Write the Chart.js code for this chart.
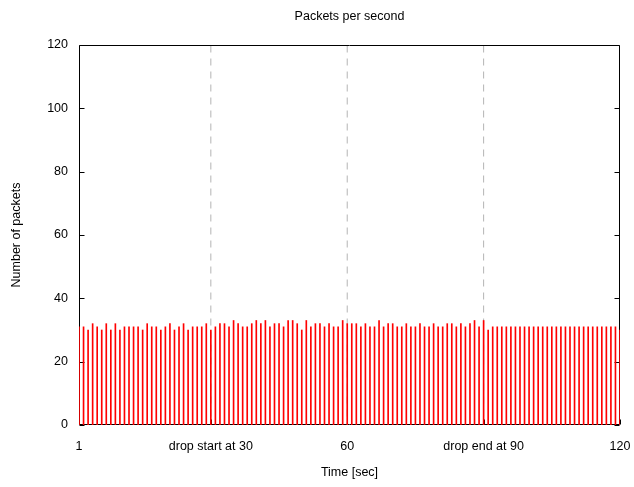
<!DOCTYPE html>
<html>
<head>
<meta charset="utf-8">
<title>Packets per second</title>
<script src="https://cdn.jsdelivr.net/npm/chart.js@4/dist/chart.umd.min.js"></script>
<style>
  html, body { margin: 0; padding: 0; background: #ffffff; }
  #wrap { width: 634px; height: 487px; }
</style>
</head>
<body>
<div id="wrap"><canvas id="chart" width="634" height="487"></canvas></div>
<script>
// Seconds of the capture (one impulse per second)
const seconds = [
  1, 2, 3, 4, 5, 6, 7, 8, 9, 10, 11, 12, 13, 14, 15, 16, 17, 18, 19, 20,
  21, 22, 23, 24, 25, 26, 27, 28, 29, 30, 31, 32, 33, 34, 35, 36, 37, 38, 39, 40,
  41, 42, 43, 44, 45, 46, 47, 48, 49, 50, 51, 52, 53, 54, 55, 56, 57, 58, 59, 60,
  61, 62, 63, 64, 65, 66, 67, 68, 69, 70, 71, 72, 73, 74, 75, 76, 77, 78, 79, 80,
  81, 82, 83, 84, 85, 86, 87, 88, 89, 90, 91, 92, 93, 94, 95, 96, 97, 98, 99, 100,
  101, 102, 103, 104, 105, 106, 107, 108, 109, 110, 111, 112, 113, 114, 115, 116, 117, 118, 119, 120
];

// Packets counted in each second
const packets = [
  31, 31, 30, 32, 31, 30, 32, 30, 32, 30, 31, 31, 31, 31, 30, 32, 31, 31, 30, 31,
  32, 30, 31, 32, 30, 31, 31, 31, 32, 30, 31, 32, 32, 31, 33, 32, 31, 31, 32, 33,
  32, 33, 31, 32, 32, 31, 33, 33, 32, 30, 33, 31, 32, 32, 31, 32, 31, 31, 33, 32,
  32, 32, 31, 32, 31, 31, 33, 31, 32, 32, 31, 31, 32, 31, 31, 32, 31, 31, 32, 31,
  31, 32, 32, 31, 32, 31, 32, 33, 31, 33, 30, 31, 31, 31, 31, 31, 31, 31, 31, 31,
  31, 31, 31, 31, 31, 31, 31, 31, 31, 31, 31, 31, 31, 31, 31, 31, 31, 31, 31, 30
];

// X axis ticks and their labels
const xTickValues = [1, 30, 60, 90, 120];
const xTickLabels = ['1', 'drop start at 30', '60', 'drop end at 90', '120'];

// Seconds where the drop window starts / midpoint / ends (dashed guides)
const markerSeconds = [30, 60, 90];

// Y axis ticks
const yTickValues = [0, 20, 40, 60, 80, 100, 120];

const chartTitle = 'Packets per second';

const FONT = '"Liberation Sans", Arial, Helvetica, sans-serif';
const FONT_SIZE = 12.5;
Chart.defaults.font.family = FONT;
Chart.defaults.font.size = FONT_SIZE;
Chart.defaults.color = '#000000';

// Frame, inward tick marks and dashed guide lines, drawn behind the impulses
const framePlugin = {
  id: 'frame',
  beforeDatasetsDraw(chart) {
    const { ctx, chartArea: a, scales } = chart;
    const xs = scales.x, ys = scales.y;
    const L = Math.round(a.left) + 0.5, R = Math.round(a.right) - 0.5;
    const T = Math.round(a.top) + 0.5, B = Math.round(a.bottom) - 0.5;
    ctx.save();

    // dashed guides
    ctx.strokeStyle = '#b4b4b4';
    ctx.lineWidth = 1;
    ctx.setLineDash([7, 6]);
    markerSeconds.forEach(v => {
      const px = xs.getPixelForValue(v);
      ctx.beginPath();
      ctx.moveTo(px, T);
      ctx.lineTo(px, B);
      ctx.stroke();
    });
    ctx.setLineDash([]);

    // frame
    ctx.strokeStyle = '#000000';
    ctx.beginPath();
    ctx.rect(L, T, R - L, B - T);
    ctx.stroke();

    // inward ticks
    const tl = 5;
    ctx.beginPath();
    yTickValues.forEach(v => {
      const py = Math.round(ys.getPixelForValue(v)) + 0.5;
      ctx.moveTo(L, py); ctx.lineTo(L + tl, py);
      ctx.moveTo(R, py); ctx.lineTo(R - tl, py);
    });
    xTickValues.forEach(v => {
      const px = Math.round(xs.getPixelForValue(v)) + 0.5;
      ctx.moveTo(px, B); ctx.lineTo(px, B - tl);
    });
    ctx.stroke();
    ctx.restore();
  },
  // title centred over the plot area
  afterDraw(chart) {
    const { ctx, chartArea: a } = chart;
    ctx.save();
    ctx.font = FONT_SIZE + 'px ' + FONT;
    ctx.fillStyle = '#000000';
    ctx.textAlign = 'center';
    ctx.textBaseline = 'middle';
    ctx.fillText(chartTitle, (a.left + a.right) / 2, 17);
    ctx.restore();
  }
};

new Chart(document.getElementById('chart'), {
  type: 'bar',
  data: {
    datasets: [{
      label: 'packets',
      data: seconds.map((s, i) => ({ x: s, y: packets[i] })),
      backgroundColor: '#ff0000',
      borderWidth: 0,
      barThickness: 1
    }]
  },
  options: {
    responsive: false,
    animation: false,
    events: [],
    layout: { padding: { left: 0, right: 14, top: 45, bottom: 0 } },
    plugins: {
      legend: { display: false },
      tooltip: { enabled: false },
      title: { display: false }
    },
    scales: {
      x: {
        type: 'linear',
        min: 1,
        max: 120,
        offset: false,
        grid: { display: false, drawTicks: false, offset: false },
        border: { display: false },
        afterBuildTicks: scale => {
          scale.ticks = xTickValues.map(v => ({ value: v }));
        },
        afterFit: scale => {
          scale.height = 62;
          scale.paddingLeft = 0;
          scale.paddingRight = 0;
        },
        ticks: {
          autoSkip: false,
          maxRotation: 0,
          padding: 14.5,
          color: '#000000',
          callback: value => {
            const k = xTickValues.indexOf(value);
            return k >= 0 ? xTickLabels[k] : '';
          }
        },
        title: {
          display: true,
          text: 'Time [sec]',
          color: '#000000',
          padding: { top: 0, bottom: 6.5 }
        }
      },
      y: {
        min: 0,
        max: 120,
        grid: { display: false, drawTicks: false },
        border: { display: false },
        afterBuildTicks: scale => {
          scale.ticks = yTickValues.map(v => ({ value: v }));
        },
        afterFit: scale => {
          scale.width = 79;
          scale.paddingTop = 0;
          scale.paddingBottom = 0;
        },
        ticks: {
          padding: 11,
          color: '#000000'
        },
        title: {
          display: true,
          text: 'Number of packets',
          color: '#000000',
          padding: { top: 9.5, bottom: 0 }
        }
      }
    }
  },
  plugins: [framePlugin]
});
</script>
</body>
</html>
